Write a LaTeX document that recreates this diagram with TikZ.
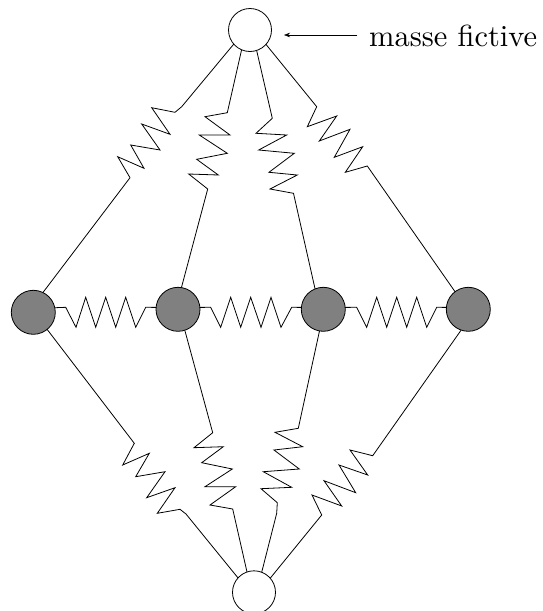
\documentclass[tikz,border=0pt]{standalone}
\usetikzlibrary{arrows.meta}
\tikzset{
  mass/.style={circle,draw=black,line width=0.8pt,minimum size=43pt,inner sep=0pt,outer sep=0pt},
  heavy/.style={mass,fill=black!50,minimum size=44pt},
  light/.style={mass,fill=white},
  spring/.style={draw=black,line width=0.8pt,line join=miter},
  pointer/.style={draw=black,line width=0.5pt,-{Stealth[length=6pt,width=4.5pt]}},
  caption/.style={anchor=base west,inner sep=0pt}
}
\begin{document}
\begin{tikzpicture}[x=1pt,y=-1pt]
\useasboundingbox (0,0) rectangle (542,611);
\clip (0,0) rectangle (542,611);
\node[light] (top) at (250,30) {};
\node[light] (bot) at (254,592.3) {};
\node[heavy] (g1) at (33.3,312.3) {};
\node[heavy] (g2) at (178,309.3) {};
\node[heavy] (g3) at (323.3,309.3) {};
\node[heavy] (g4) at (468.3,309.3) {};
\node[caption] (lab) at (369,46.7) {\scalebox{3.05}{masse fictive}};
\coordinate (arrowstart) at (357.3,35);
\coordinate (arrowend) at (284,35);
\draw[pointer] (arrowstart) -- (arrowend);
% upper springs
\draw[spring] (top.221) -- (181.7,106.7) -- (175,112.3) -- (151.7,107.7) -- (170,134.3) -- (141.7,124) -- (160,150) -- (130.7,145) -- (144,168.3) -- (117.7,156.7) -- (130,177.7) -- (g1.64);
\draw[spring] (top.247) -- (227.3,112.7) -- (205,116.7) -- (230,135) -- (199.3,135) -- (227.3,153.3) -- (196.7,159.3) -- (218.3,175) -- (188.7,174) -- (207.7,189) -- (g2.81);
\draw[spring] (top.288) -- (272.3,118.3) -- (256,133.3) -- (286.7,135) -- (258.7,150) -- (294.3,153.3) -- (269,172.3) -- (297.3,175) -- (270,189) -- (293.5,193.3) -- (g3.112);
\draw[spring] (top.318) -- (316.7,106.7) -- (307.3,126.7) -- (336.7,116) -- (319.3,141) -- (350,129.3) -- (334.3,157.3) -- (362.7,146.7) -- (345.3,172.3) -- (367.3,166) -- (g4.127);
% horizontal springs
\draw[spring] (g1.12.5) -- (65.7,307.3) -- (76,327.3) -- (85.7,297.3) -- (95.7,327.3) -- (105.7,297.3) -- (115.7,327.3) -- (125.7,297.3) -- (135.7,327.3) -- (145.7,307.3) -- (g2.175);
\draw[spring] (g2.5) -- (210.7,307.3) -- (220.7,327.3) -- (230.7,297.3) -- (240.7,327.3) -- (250.7,297.3) -- (261,327.3) -- (271,297.3) -- (281,327.3) -- (291.7,307.3) -- (g3.175);
\draw[spring] (g3.5) -- (356.7,307.3) -- (366.7,327.3) -- (376.7,297.3) -- (386.7,327.3) -- (396.7,297.3) -- (406.7,327.3) -- (416.7,297.3) -- (426.7,327.3) -- (436.7,307.3) -- (g4.175);
% lower springs
\draw[spring] (g1.-51) -- (134.3,443.3) -- (122.7,465) -- (149.3,453.3) -- (135.7,476.7) -- (165,471.7) -- (146.7,497.7) -- (175,487.7) -- (157.3,513.3) -- (180,509.3) -- (186,514) -- (bot.138);
\draw[spring] (g2.-72) -- (212.7,432.7) -- (194,447.7) -- (223.3,446.7) -- (201.7,462.7) -- (232.3,469) -- (205,486.7) -- (235.7,486.7) -- (210,505) -- (232.7,509) -- (bot.109.5);
\draw[spring] (g3.260) -- (298.3,428.3) -- (275,432.3) -- (302.7,446.7) -- (274,450) -- (299.3,469) -- (263.3,471.7) -- (291.7,487.3) -- (261,488.7) -- (277.3,502.7) -- (276.7,513.3) -- (bot.69.5);
\draw[spring] (g4.251) -- (372.7,455.7) -- (350,450) -- (367.7,475) -- (339,465) -- (355.7,492.7) -- (324,480.7) -- (341.7,506) -- (312,495) -- (321.7,515) -- (bot.41);
\end{tikzpicture}
\end{document}
